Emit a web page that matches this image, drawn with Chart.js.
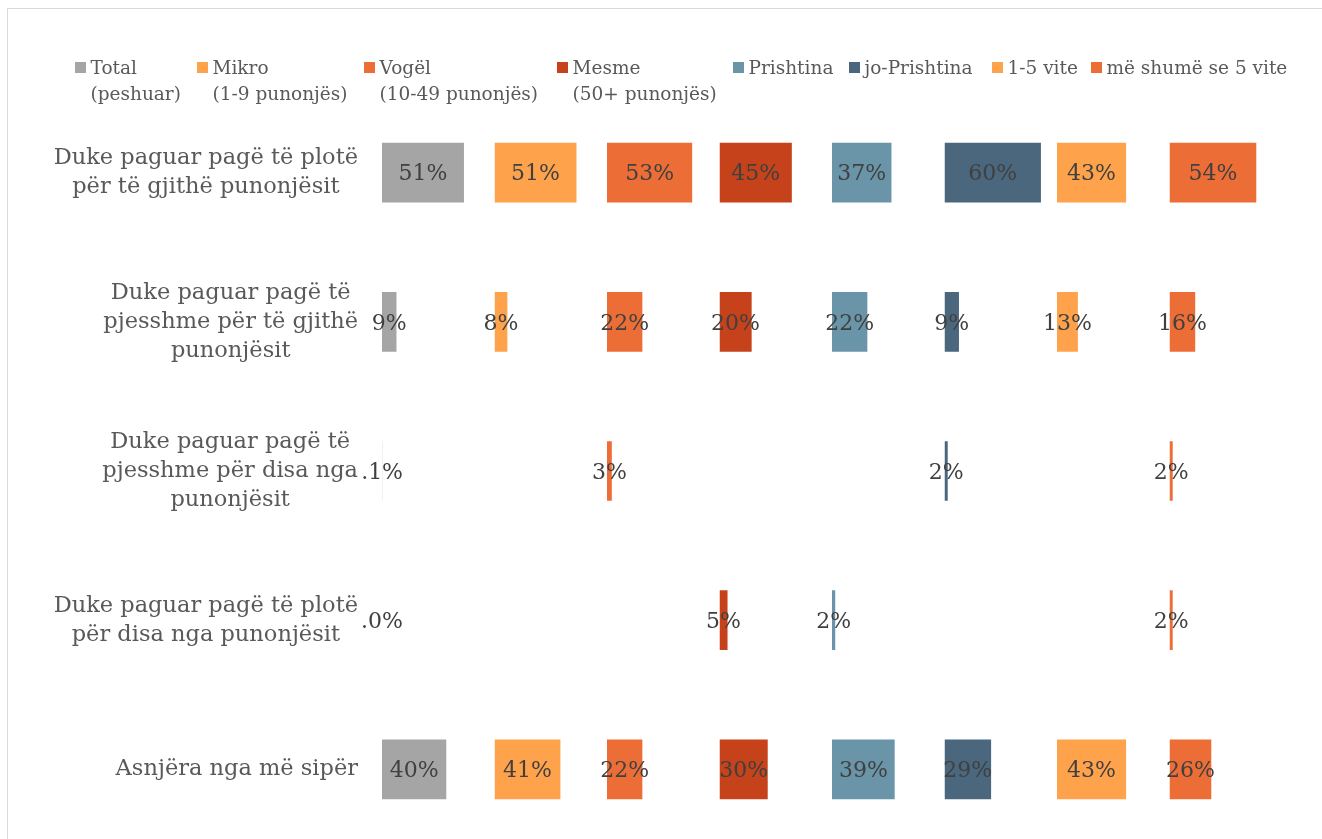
<!DOCTYPE html>
<html>
<head>
<meta charset="utf-8">
<script src="https://cdn.jsdelivr.net/npm/chart.js@4/dist/chart.umd.min.js"></script>
<style>
  html, body { margin: 0; padding: 0; background: #fff; overflow: hidden; }
  #wrap { position: relative; width: 1322px; height: 839px; overflow: hidden; }
  #frame { position: absolute; left: 7px; top: 8px; width: 1400px; height: 900px; border: 1px solid #d9d9d9; }
  canvas { position: absolute; left: 0; top: 0; }
</style>
</head>
<body>
<div id="wrap">
  <div id="frame"></div>
  <canvas id="myChart" width="1322" height="860"></canvas>
</div>
<script>
// categories (rows), one entry per line of the label
const categories = [
  ['Duke paguar pagë të plotë', 'për të gjithë punonjësit'],
  ['Duke paguar pagë të', 'pjesshme për të gjithë', 'punonjësit'],
  ['Duke paguar pagë të', 'pjesshme për disa nga', 'punonjësit'],
  ['Duke paguar pagë të plotë', 'për disa nga punonjësit'],
  ['Asnjëra nga më sipër']
];

// series names (legend), second line optional
const seriesNames = [
  ['Total', '(peshuar)'],
  ['Mikro', '(1-9 punonjës)'],
  ['Vogël', '(10-49 punonjës)'],
  ['Mesme', '(50+ punonjës)'],
  ['Prishtina'],
  ['jo-Prishtina'],
  ['1-5 vite'],
  ['më shumë se 5 vite']
];

// values in %, null = no bar
const total       = [51, 9, 0.1, 0.0, 40];
const mikro       = [51, 8, null, null, 41];
const vogel       = [53, 22, 3, null, 22];
const mesme       = [45, 20, null, 5, 30];
const prishtina   = [37, 22, null, 2, 39];
const joPrishtina = [60, 9, 2, null, 29];
const vite1_5     = [43, 13, null, null, 43];
const vite5plus   = [54, 16, 2, 2, 26];

const seriesValues = [total, mikro, vogel, mesme, prishtina, joPrishtina, vite1_5, vite5plus];
const colors = ['#A5A5A5', '#FFA24C', '#EC6E36', '#C5421A', '#6A94A8', '#4A677D', '#FFA24C', '#EC6E36'];

const FONT = "'DejaVu Serif', 'Liberation Serif', serif";

// every series has its own x axis, the axes sit side by side
const scales = {
  y: { type: 'category', display: false, offset: true, grid: { display: false } }
};
seriesValues.forEach(function (v, i) {
  scales['x' + i] = {
    type: 'linear', position: 'bottom', stack: 'panels', stackWeight: 1,
    min: 0, max: 70, display: false
  };
});

const datasets = seriesValues.map(function (v, i) {
  return {
    label: seriesNames[i].join(' '),
    data: v,
    xAxisID: 'x' + i,
    yAxisID: 'y',
    grouped: false,
    barPercentage: 0.4,
    categoryPercentage: 1.0,
    backgroundColor: colors[i],
    borderWidth: 0
  };
});

function fmt(v) {
  if (v < 1) return '.' + Math.round(v * 10) + '%';
  return Math.round(v) + '%';
}

// value labels centred on the bars
const valueLabels = {
  id: 'valueLabels',
  afterDatasetsDraw: function (chart) {
    const ctx = chart.ctx;
    ctx.save();
    ctx.font = '22px ' + FONT;
    ctx.fillStyle = '#404040';
    ctx.textAlign = 'center';
    ctx.textBaseline = 'middle';
    chart.data.datasets.forEach(function (ds, i) {
      const meta = chart.getDatasetMeta(i);
      meta.data.forEach(function (bar, j) {
        const v = ds.data[j];
        if (v === null || v === undefined) return;
        ctx.fillText(fmt(v), (bar.x + bar.base) / 2, bar.y + 2);
      });
    });
    ctx.restore();
  }
};

// category labels: block right aligned, lines centred
const categoryLabels = {
  id: 'categoryLabels',
  afterDraw: function (chart) {
    const ctx = chart.ctx;
    const yScale = chart.scales.y;
    const right = chart.chartArea.left - 24;
    const lineH = 29;
    ctx.save();
    ctx.font = '22.5px ' + FONT;
    ctx.fillStyle = '#595959';
    ctx.textAlign = 'center';
    ctx.textBaseline = 'middle';
    categories.forEach(function (lines, i) {
      const yc = yScale.getPixelForValue(i);
      let w = 0;
      lines.forEach(function (l) { w = Math.max(w, ctx.measureText(l).width); });
      const xc = right - w / 2;
      const y0 = yc - (lines.length - 1) * lineH / 2;
      lines.forEach(function (l, k) {
        ctx.fillText(l, xc, y0 + k * lineH);
      });
    });
    ctx.restore();
  }
};

// legend on top, two line entries
const legendX = [75, 197, 364, 557, 733, 849, 992, 1091];
const topLegend = {
  id: 'topLegend',
  afterDraw: function (chart) {
    const ctx = chart.ctx;
    ctx.save();
    ctx.font = '18.5px ' + FONT;
    ctx.textAlign = 'left';
    ctx.textBaseline = 'alphabetic';
    seriesNames.forEach(function (lines, i) {
      const x = legendX[i];
      ctx.fillStyle = colors[i];
      ctx.fillRect(x, 62, 11, 11);
      ctx.fillStyle = '#595959';
      lines.forEach(function (l, k) {
        ctx.fillText(l, x + 15.5, 73.5 + k * 26);
      });
    });
    ctx.restore();
  }
};

const ctx = document.getElementById('myChart').getContext('2d');

const config = {
  type: 'bar',
  data: {
    labels: categories,
    datasets: datasets
  },
  options: {
    indexAxis: 'y',
    responsive: false,
    animation: false,
    layout: { padding: { left: 382, right: 40, top: 98, bottom: 16 } },
    scales: scales,
    plugins: {
      legend: { display: false },
      tooltip: { enabled: false }
    }
  },
  plugins: [valueLabels, categoryLabels, topLegend]
};

const chart = new Chart(ctx, config);
</script>
</body>
</html>
